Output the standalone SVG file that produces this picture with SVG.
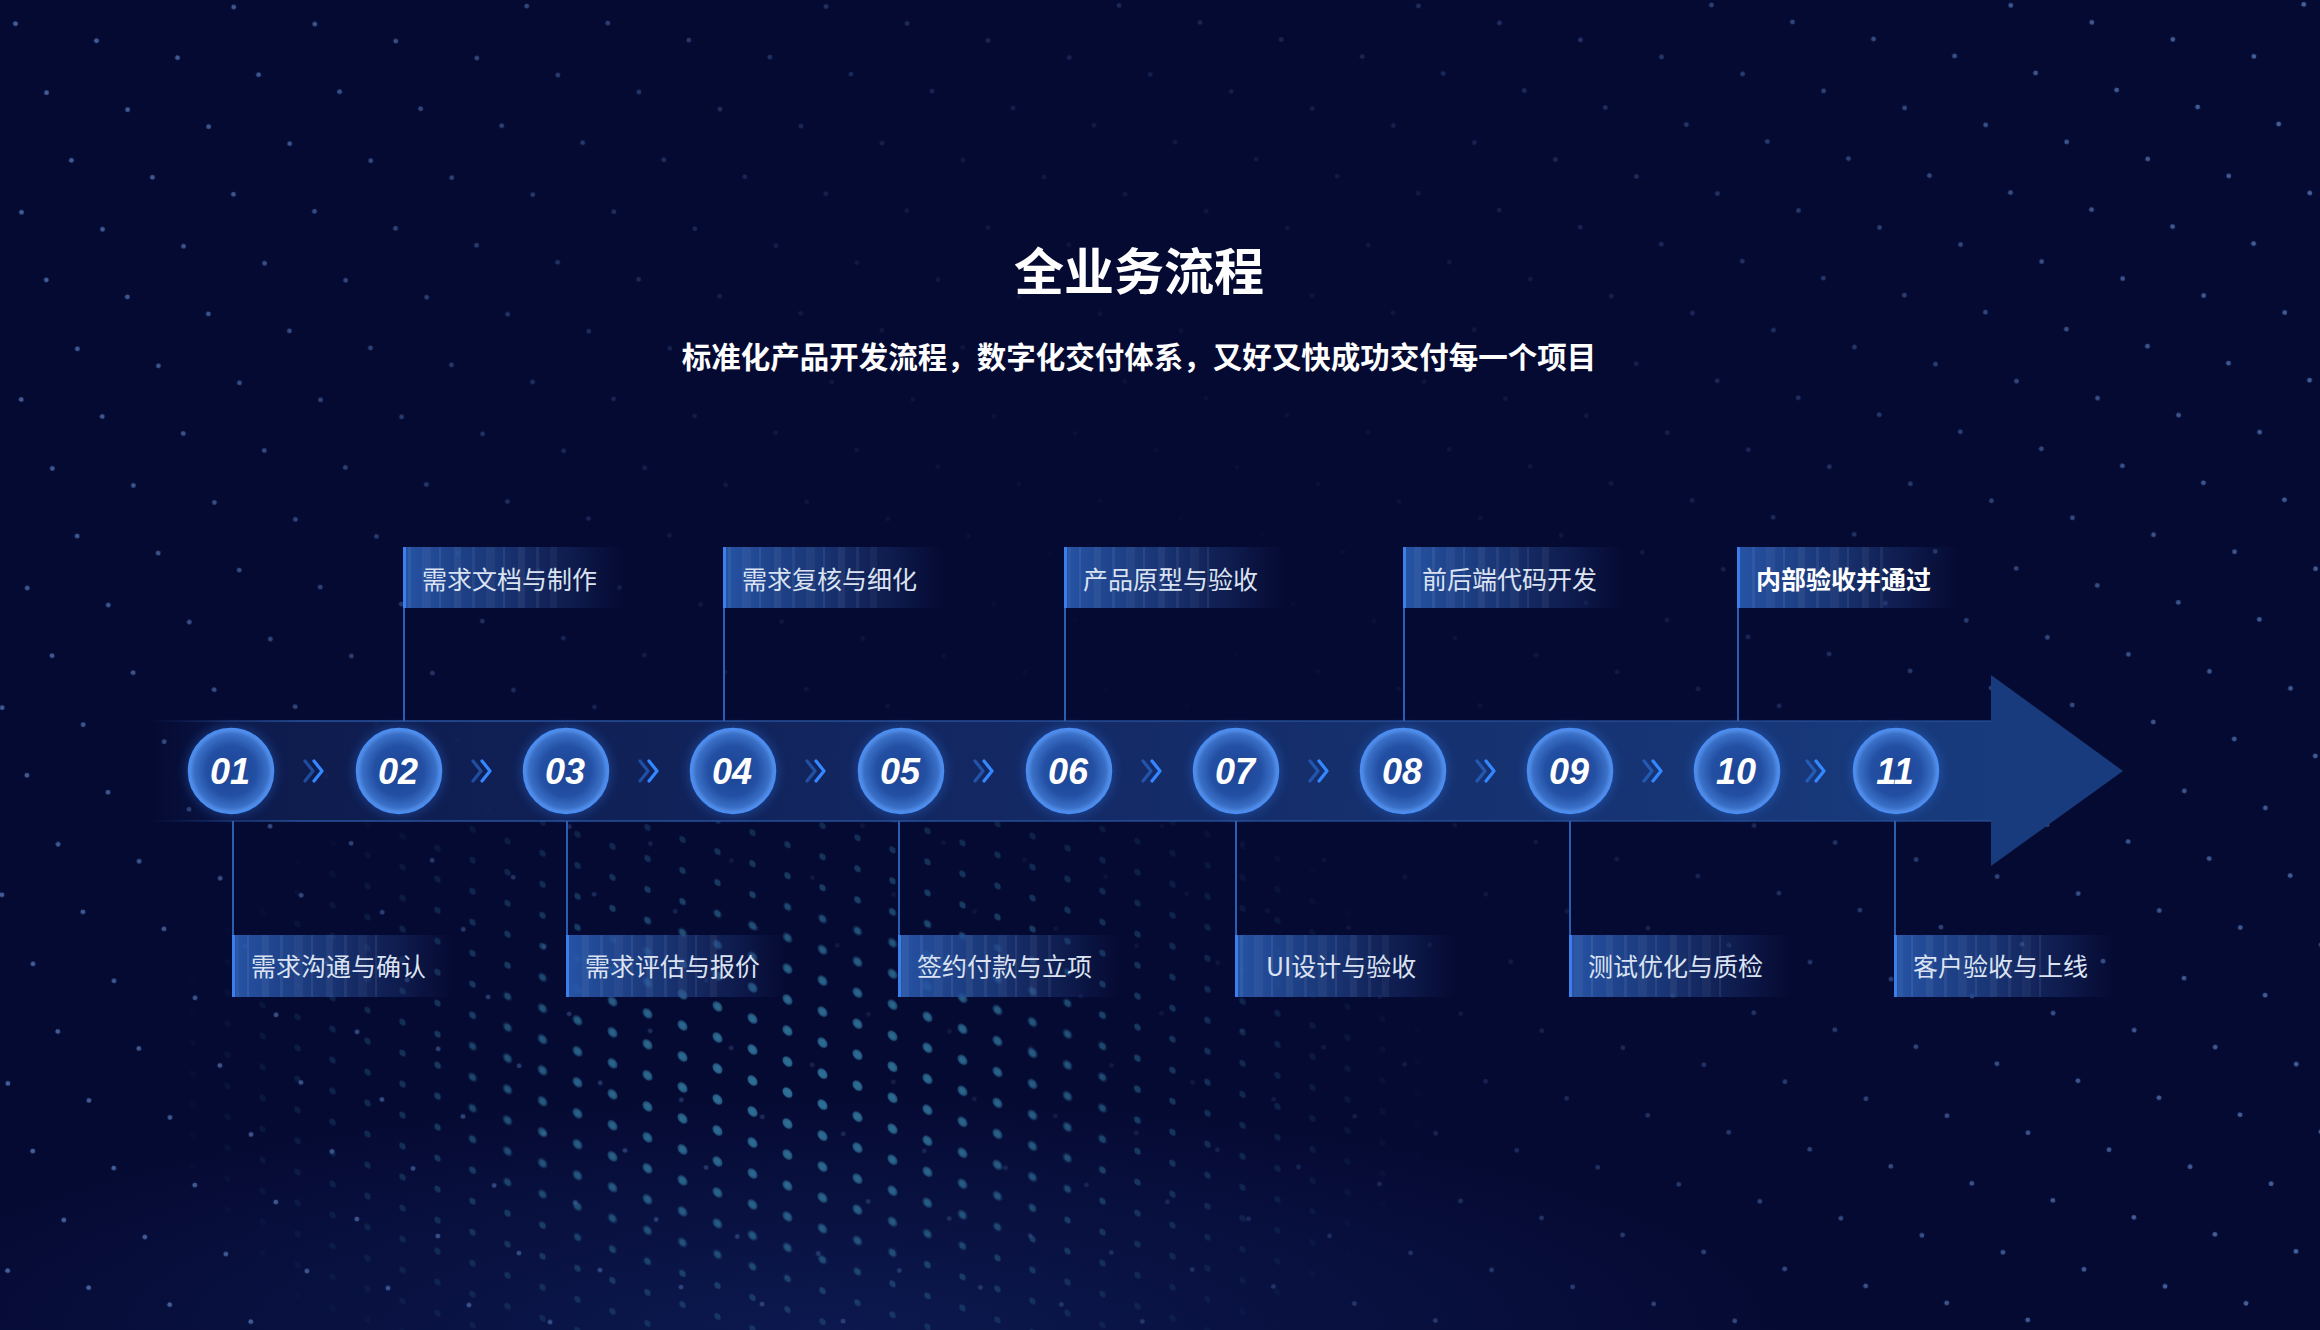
<svg xmlns="http://www.w3.org/2000/svg" xmlns:xlink="http://www.w3.org/1999/xlink" width="2320" height="1330" viewBox="0 0 2320 1330">
<style>
.title{font-family:"Noto Sans CJK SC","Noto Sans",sans-serif;font-weight:700;fill:#ffffff}
.lbl{font-family:"Noto Sans CJK SC","Noto Sans",sans-serif;font-size:25px;fill:#dbe3f3}
.lblb{font-weight:700;fill:#ffffff}
.num{font-family:"Liberation Sans",Arial,sans-serif;font-weight:700;font-style:italic;font-size:36px;fill:#ffffff;text-anchor:middle}
.vline{stroke:#2b5db0;stroke-width:2;fill:none}
.chev{fill:none;stroke:#3487ff;stroke-width:3.2;stroke-linecap:round;stroke-linejoin:round}
.circ{fill:url(#circG);stroke:#4a8cf0;stroke-width:2.5}
.halo{fill:#2f6fd8;opacity:0.45}
.box{fill:url(#boxG)}
.edge{fill:#3b80ea}
.stripe{fill:url(#stripes)}
</style>
<defs>
  <radialGradient id="circG" cx="0.5" cy="0.5" r="0.5">
    <stop offset="0" stop-color="#1c4393"/>
    <stop offset="0.6" stop-color="#2350a4"/>
    <stop offset="0.88" stop-color="#3a70c8"/>
    <stop offset="1" stop-color="#5a93ea"/>
  </radialGradient>
  <linearGradient id="boxG" x1="0" y1="0" x2="1" y2="0">
    <stop offset="0" stop-color="#2858ac" stop-opacity="0.95"/>
    <stop offset="0.45" stop-color="#21468f" stop-opacity="0.7"/>
    <stop offset="0.8" stop-color="#1c3474" stop-opacity="0.35"/>
    <stop offset="1" stop-color="#16285e" stop-opacity="0"/>
  </linearGradient>
  <pattern id="stripes" patternUnits="userSpaceOnUse" width="64" height="10">
    <rect x="6" y="0" width="7" height="10" fill="#ffffff" opacity="0.05"/>
    <rect x="24" y="0" width="3" height="10" fill="#ffffff" opacity="0.06"/>
    <rect x="38" y="0" width="9" height="10" fill="#ffffff" opacity="0.04"/>
    <rect x="55" y="0" width="2" height="10" fill="#ffffff" opacity="0.07"/>
  </pattern>
  <linearGradient id="bandG" gradientUnits="userSpaceOnUse" x1="150" y1="0" x2="1995" y2="0">
    <stop offset="0" stop-color="#0c1848" stop-opacity="0"/>
    <stop offset="0.06" stop-color="#0f1d50" stop-opacity="0.9"/>
    <stop offset="0.5" stop-color="#142a66"/>
    <stop offset="1" stop-color="#183b7d"/>
  </linearGradient>
  <linearGradient id="edgeG" gradientUnits="userSpaceOnUse" x1="150" y1="0" x2="1995" y2="0">
    <stop offset="0" stop-color="#2a58a6" stop-opacity="0"/>
    <stop offset="0.08" stop-color="#2a58a6" stop-opacity="0.7"/>
    <stop offset="1" stop-color="#2a58a6" stop-opacity="0.5"/>
  </linearGradient>
  <filter id="blur" x="-50%" y="-50%" width="200%" height="200%">
    <feGaussianBlur stdDeviation="6"/>
  </filter>
  <g id="chevs">
    <path class="chev" d="M-10,-10 L-2,0 L-10,10" opacity="0.45"/>
    <path class="chev" d="M-1,-10 L7,0 L-1,10"/>
  </g>
  <pattern id="stars" patternUnits="userSpaceOnUse" width="82.8" height="122.2" patternTransform="rotate(11.85)">
    <circle cx="20" cy="20" r="2.4" fill="#4f6fae"/>
    <circle cx="64.6" cy="81.1" r="2.4" fill="#4f6fae"/>
  </pattern>
  <radialGradient id="starMaskG" gradientUnits="userSpaceOnUse" cx="1160" cy="620" r="1250">
    <stop offset="0" stop-color="#fff" stop-opacity="0.0"/>
    <stop offset="0.4" stop-color="#fff" stop-opacity="0.2"/>
    <stop offset="0.8" stop-color="#fff" stop-opacity="0.85"/>
    <stop offset="1" stop-color="#fff" stop-opacity="1"/>
  </radialGradient>
  <mask id="starMask" maskUnits="userSpaceOnUse" x="0" y="0" width="2320" height="1330">
    <rect x="0" y="0" width="2320" height="1330" fill="url(#starMaskG)"/>
  </mask>
  <pattern id="half" patternUnits="userSpaceOnUse" width="35" height="31" patternTransform="skewY(19)">
    <circle cx="17.5" cy="15.5" r="3.2" fill="#2c6b92"/>
  </pattern>
  <pattern id="halfBig" patternUnits="userSpaceOnUse" width="35" height="31" patternTransform="skewY(19)">
    <circle cx="17.5" cy="15.5" r="5" fill="#2f7299"/>
  </pattern>
  <radialGradient id="halfMaskG" gradientUnits="userSpaceOnUse" cx="800" cy="1080" r="620" gradientTransform="translate(800 1080) scale(1.05 0.62) translate(-800 -1080)">
    <stop offset="0" stop-color="#fff" stop-opacity="1"/>
    <stop offset="0.45" stop-color="#fff" stop-opacity="0.7"/>
    <stop offset="0.8" stop-color="#fff" stop-opacity="0.2"/>
    <stop offset="1" stop-color="#fff" stop-opacity="0"/>
  </radialGradient>
  <mask id="halfMask" maskUnits="userSpaceOnUse" x="0" y="0" width="2320" height="1330">
    <rect x="0" y="820" width="2320" height="510" fill="url(#halfMaskG)"/>
  </mask>
  <radialGradient id="halfBigMaskG" gradientUnits="userSpaceOnUse" cx="790" cy="1090" r="330" gradientTransform="translate(790 1090) scale(1.1 0.6) translate(-790 -1090)">
    <stop offset="0" stop-color="#fff" stop-opacity="1"/>
    <stop offset="0.6" stop-color="#fff" stop-opacity="0.6"/>
    <stop offset="1" stop-color="#fff" stop-opacity="0"/>
  </radialGradient>
  <mask id="halfBigMask" maskUnits="userSpaceOnUse" x="0" y="0" width="2320" height="1330">
    <rect x="0" y="820" width="2320" height="510" fill="url(#halfBigMaskG)"/>
  </mask>
  <radialGradient id="glowG" cx="0.5" cy="0.5" r="0.5">
    <stop offset="0" stop-color="#0f1e5a" stop-opacity="0.7"/>
    <stop offset="1" stop-color="#0f1e5a" stop-opacity="0"/>
  </radialGradient>
</defs>

<g id="background">
  <rect x="0" y="0" width="2320" height="1330" fill="#050a32"/>
  <ellipse cx="820" cy="1330" rx="1000" ry="240" fill="url(#glowG)"/>
  <rect x="0" y="0" width="2320" height="1330" fill="url(#stars)" mask="url(#starMask)" opacity="0.85"/>
  <rect x="0" y="820" width="2320" height="510" fill="url(#half)" mask="url(#halfMask)" opacity="0.85"/>
  <rect x="0" y="820" width="2320" height="510" fill="url(#halfBig)" mask="url(#halfBigMask)" opacity="0.9"/>
</g>

<g id="header">
  <text class="title" x="1139" y="290" font-size="50" text-anchor="middle">全业务流程</text>
  <text class="title" x="1139" y="368" font-size="29.5" text-anchor="middle">标准化产品开发流程，数字化交付体系，又好又快成功交付每一个项目</text>
</g>

<g id="connectors">
  <path id="band" d="M150,721 H1991 V675 L2123,771 L1991,866 V821 H150 Z" fill="url(#bandG)"/>
  <line x1="150" y1="721" x2="1991" y2="721" stroke="url(#edgeG)" stroke-width="2"/>
  <line x1="150" y1="821" x2="1991" y2="821" stroke="url(#edgeG)" stroke-width="2"/>
  <line class="vline" x1="404" y1="608" x2="404" y2="721"/>
  <line class="vline" x1="724" y1="608" x2="724" y2="721"/>
  <line class="vline" x1="1065" y1="608" x2="1065" y2="721"/>
  <line class="vline" x1="1404" y1="608" x2="1404" y2="721"/>
  <line class="vline" x1="1738" y1="608" x2="1738" y2="721"/>
  <line class="vline" x1="233" y1="821" x2="233" y2="935"/>
  <line class="vline" x1="567" y1="821" x2="567" y2="935"/>
  <line class="vline" x1="899" y1="821" x2="899" y2="935"/>
  <line class="vline" x1="1236" y1="821" x2="1236" y2="935"/>
  <line class="vline" x1="1570" y1="821" x2="1570" y2="935"/>
  <line class="vline" x1="1895" y1="821" x2="1895" y2="935"/>
  <use href="#chevs" transform="translate(315,771)"/>
  <use href="#chevs" transform="translate(483,771)"/>
  <use href="#chevs" transform="translate(650,771)"/>
  <use href="#chevs" transform="translate(817,771)"/>
  <use href="#chevs" transform="translate(985,771)"/>
  <use href="#chevs" transform="translate(1153,771)"/>
  <use href="#chevs" transform="translate(1320,771)"/>
  <use href="#chevs" transform="translate(1487,771)"/>
  <use href="#chevs" transform="translate(1654,771)"/>
  <use href="#chevs" transform="translate(1817,771)"/>
</g>

<g id="step01">
  <circle class="halo" cx="231" cy="771" r="44" filter="url(#blur)"/>
  <circle class="circ" cx="231" cy="771" r="42"/>
  <text class="num" x="230" y="784">01</text>
  <rect class="box" x="232" y="935" width="222" height="62"/>
  <rect class="stripe" x="236" y="935" width="150" height="62"/>
  <rect class="edge" x="232" y="935" width="3" height="62"/>
  <text class="lbl" x="251" y="976">需求沟通与确认</text>
</g>
<g id="step02">
  <circle class="halo" cx="399" cy="771" r="44" filter="url(#blur)"/>
  <circle class="circ" cx="399" cy="771" r="42"/>
  <text class="num" x="398" y="784">02</text>
  <rect class="box" x="403" y="547" width="222" height="61"/>
  <rect class="stripe" x="407" y="547" width="150" height="61"/>
  <rect class="edge" x="403" y="547" width="3" height="61"/>
  <text class="lbl" x="422" y="589">需求文档与制作</text>
</g>
<g id="step03">
  <circle class="halo" cx="566" cy="771" r="44" filter="url(#blur)"/>
  <circle class="circ" cx="566" cy="771" r="42"/>
  <text class="num" x="565" y="784">03</text>
  <rect class="box" x="566" y="935" width="222" height="62"/>
  <rect class="stripe" x="570" y="935" width="150" height="62"/>
  <rect class="edge" x="566" y="935" width="3" height="62"/>
  <text class="lbl" x="585" y="976">需求评估与报价</text>
</g>
<g id="step04">
  <circle class="halo" cx="733" cy="771" r="44" filter="url(#blur)"/>
  <circle class="circ" cx="733" cy="771" r="42"/>
  <text class="num" x="732" y="784">04</text>
  <rect class="box" x="723" y="547" width="222" height="61"/>
  <rect class="stripe" x="727" y="547" width="150" height="61"/>
  <rect class="edge" x="723" y="547" width="3" height="61"/>
  <text class="lbl" x="742" y="589">需求复核与细化</text>
</g>
<g id="step05">
  <circle class="halo" cx="901" cy="771" r="44" filter="url(#blur)"/>
  <circle class="circ" cx="901" cy="771" r="42"/>
  <text class="num" x="900" y="784">05</text>
  <rect class="box" x="898" y="935" width="222" height="62"/>
  <rect class="stripe" x="902" y="935" width="150" height="62"/>
  <rect class="edge" x="898" y="935" width="3" height="62"/>
  <text class="lbl" x="917" y="976">签约付款与立项</text>
</g>
<g id="step06">
  <circle class="halo" cx="1069" cy="771" r="44" filter="url(#blur)"/>
  <circle class="circ" cx="1069" cy="771" r="42"/>
  <text class="num" x="1068" y="784">06</text>
  <rect class="box" x="1064" y="547" width="222" height="61"/>
  <rect class="stripe" x="1068" y="547" width="150" height="61"/>
  <rect class="edge" x="1064" y="547" width="3" height="61"/>
  <text class="lbl" x="1083" y="589">产品原型与验收</text>
</g>
<g id="step07">
  <circle class="halo" cx="1236" cy="771" r="44" filter="url(#blur)"/>
  <circle class="circ" cx="1236" cy="771" r="42"/>
  <text class="num" x="1235" y="784">07</text>
  <rect class="box" x="1235" y="935" width="222" height="62"/>
  <rect class="stripe" x="1239" y="935" width="150" height="62"/>
  <rect class="edge" x="1235" y="935" width="3" height="62"/>
  <text class="lbl" x="1266" y="976">UI设计与验收</text>
</g>
<g id="step08">
  <circle class="halo" cx="1403" cy="771" r="44" filter="url(#blur)"/>
  <circle class="circ" cx="1403" cy="771" r="42"/>
  <text class="num" x="1402" y="784">08</text>
  <rect class="box" x="1403" y="547" width="222" height="61"/>
  <rect class="stripe" x="1407" y="547" width="150" height="61"/>
  <rect class="edge" x="1403" y="547" width="3" height="61"/>
  <text class="lbl" x="1422" y="589">前后端代码开发</text>
</g>
<g id="step09">
  <circle class="halo" cx="1570" cy="771" r="44" filter="url(#blur)"/>
  <circle class="circ" cx="1570" cy="771" r="42"/>
  <text class="num" x="1569" y="784">09</text>
  <rect class="box" x="1569" y="935" width="222" height="62"/>
  <rect class="stripe" x="1573" y="935" width="150" height="62"/>
  <rect class="edge" x="1569" y="935" width="3" height="62"/>
  <text class="lbl" x="1588" y="976">测试优化与质检</text>
</g>
<g id="step10">
  <circle class="halo" cx="1737" cy="771" r="44" filter="url(#blur)"/>
  <circle class="circ" cx="1737" cy="771" r="42"/>
  <text class="num" x="1736" y="784">10</text>
  <rect class="box" x="1737" y="547" width="222" height="61"/>
  <rect class="stripe" x="1741" y="547" width="150" height="61"/>
  <rect class="edge" x="1737" y="547" width="3" height="61"/>
  <text class="lbl lblb" x="1756" y="589">内部验收并通过</text>
</g>
<g id="step11">
  <circle class="halo" cx="1896" cy="771" r="44" filter="url(#blur)"/>
  <circle class="circ" cx="1896" cy="771" r="42"/>
  <text class="num" x="1895" y="784">11</text>
  <rect class="box" x="1894" y="935" width="222" height="62"/>
  <rect class="stripe" x="1898" y="935" width="150" height="62"/>
  <rect class="edge" x="1894" y="935" width="3" height="62"/>
  <text class="lbl" x="1913" y="976">客户验收与上线</text>
</g>
</svg>
